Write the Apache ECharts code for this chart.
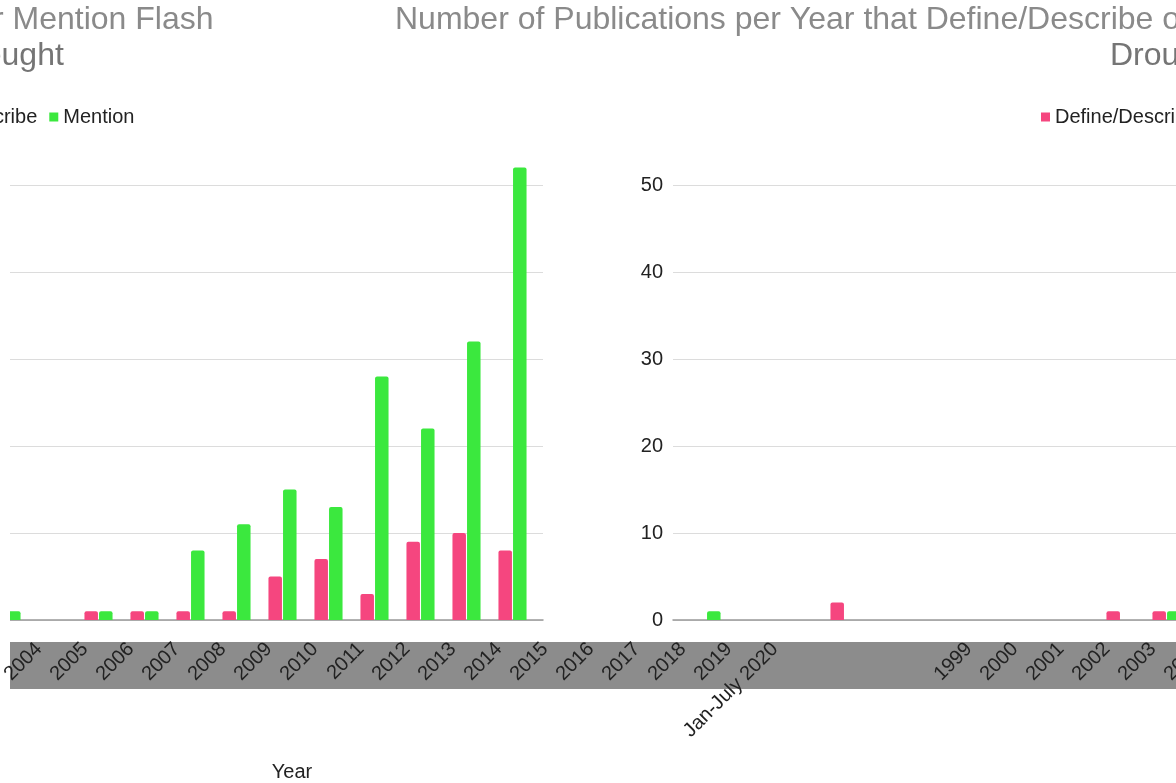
<!DOCTYPE html>
<html>
<head>
<meta charset="utf-8">
<script src="https://cdn.jsdelivr.net/npm/echarts@6/dist/echarts.min.js"></script>
<style>
  html, body { margin: 0; padding: 0; background: #fff; }
  #chart { width: 1176px; height: 783px; }
</style>
</head>
<body>
<div id="chart"></div>
<script>
  // publications per year
  const years = ['1999', '2000', '2001', '2002', '2003', '2004', '2005', '2006', '2007', '2008',
    '2009', '2010', '2011', '2012', '2013', '2014', '2015', '2016', '2017', '2018', '2019', 'Jan-July 2020']
  const defineDescribe = [0, 0, 0, 2, 0, 0, 0, 0, 0, 1, 1, 0, 1, 1, 1, 1, 5, 7, 3, 9, 10, 8]
  const mention = [1, 0, 0, 0, 0, 0, 0, 0, 0, 0, 1, 0, 1, 1, 8, 11, 15, 13, 28, 22, 32, 52]
  const yTicks = [0, 10, 20, 30, 40, 50]

  const titleLine1 = 'Number of Publications per Year that Define/Describe or Mention Flash'
  const titleLine2 = 'Drought'

  const PINK = '#f5467f'
  const GREEN = '#3be83e'
  const FONT = 'Liberation Sans, Arial, sans-serif'
  // the picture is wrapped round horizontally, so every layer is drawn twice
  const WRAP = 1160

  const chart = echarts.init(document.getElementById('chart'))

  const plotTop = 185
  const plotH = 435

  function backGrid (left) {
    return { left: left, top: plotTop, width: 1030, height: plotH, outerBoundsMode: 'none' }
  }
  function barGrid (left) {
    return { left: left, top: plotTop, width: 1012, height: plotH, outerBoundsMode: 'none' }
  }

  const grids = [
    backGrid(673), backGrid(673 - WRAP),
    barGrid(683.5), barGrid(683.5 - WRAP),
    barGrid(946), barGrid(946 - WRAP)
  ]

  const xAxes = [0, 1].map(i => ({
    gridIndex: i,
    type: 'category',
    data: years,
    axisLine: { lineStyle: { color: '#999', width: 1.5 } },
    axisTick: { show: false },
    axisLabel: { show: false }
  })).concat([2, 3].map(i => ({
    gridIndex: i,
    type: 'category',
    data: years,
    show: false
  }))).concat([4, 5].map(i => ({
    gridIndex: i,
    type: 'category',
    data: years,
    name: 'Year',
    nameLocation: 'middle',
    nameGap: 142,
    nameTextStyle: { fontSize: 20, color: '#222', fontFamily: FONT },
    axisLine: { show: false },
    axisTick: { show: false },
    axisLabel: {
      rotate: 45,
      interval: 0,
      margin: 26,
      fontSize: 20,
      color: '#222',
      fontFamily: FONT
    }
  })))

  const yAxes = [0, 1].map(i => ({
    gridIndex: i,
    type: 'value',
    min: yTicks[0],
    max: yTicks[yTicks.length - 1],
    interval: 10,
    axisLine: { show: false },
    axisTick: { show: false },
    axisLabel: { show: i === 0, fontSize: 20, color: '#222', margin: 10, fontFamily: FONT },
    splitLine: { lineStyle: { color: '#dcdcdc' } }
  })).concat([2, 3, 4, 5].map(i => ({
    gridIndex: i,
    type: 'value',
    min: 0,
    max: 50,
    show: false,
    splitLine: { show: false }
  })))

  const series = []
  ;[2, 3].forEach(i => {
    series.push({
      name: 'Define/Describe',
      type: 'bar',
      xAxisIndex: i,
      yAxisIndex: i,
      data: defineDescribe,
      barWidth: 13.5,
      barGap: '8%',
      clip: false,
      itemStyle: { color: PINK, borderRadius: [2, 2, 0, 0] }
    })
    series.push({
      name: 'Mention',
      type: 'bar',
      xAxisIndex: i,
      yAxisIndex: i,
      data: mention,
      barWidth: 13.5,
      barGap: '8%',
      clip: false,
      itemStyle: { color: GREEN, borderRadius: [2, 2, 0, 0] }
    })
  })

  function legendAt (left) {
    return {
      left: left,
      top: 102,
      width: 600,
      icon: 'rect',
      itemWidth: 9,
      itemHeight: 9,
      itemGap: 12,
      selectedMode: false,
      textStyle: { fontSize: 20, color: '#222', fontFamily: FONT },
      data: ['Define/Describe', 'Mention']
    }
  }

  function titleText (text, x, y, color) {
    return {
      type: 'text',
      x: x,
      y: y,
      z: 5,
      style: { text: text, font: '32px ' + FONT, fill: color }
    }
  }

  chart.setOption({
    animation: false,
    textStyle: { fontFamily: FONT },
    grid: grids,
    xAxis: xAxes,
    yAxis: yAxes,
    legend: [legendAt(1036), legendAt(1036 - WRAP)],
    series: series,
    graphic: [
      titleText(titleLine1, 395, 4, '#8a8a8a'),
      titleText(titleLine1, -792, 4, '#8a8a8a'),
      titleText(titleLine2, 1110, 40, '#757575'),
      titleText(titleLine2, 1110 - WRAP, 40, '#757575'),
      // grey band behind the year labels
      { type: 'rect', z: -10, shape: { x: 10, y: 642, width: 1166, height: 47 }, style: { fill: '#8c8c8c' } },
      { type: 'rect', z: 50, shape: { x: 0, y: 140, width: 10, height: 495 }, style: { fill: '#fff' } }
    ]
  })
</script>
</body>
</html>
